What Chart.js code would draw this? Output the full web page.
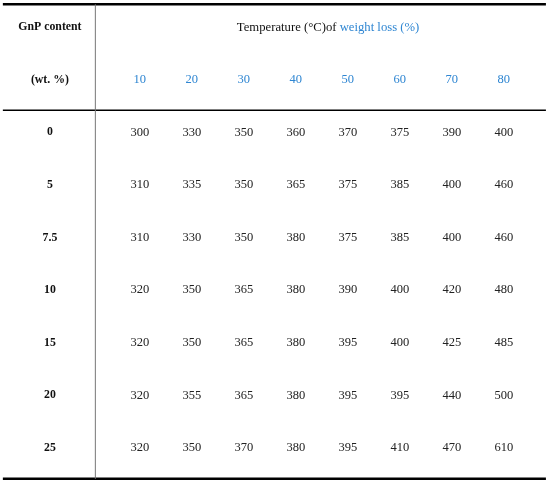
<!DOCTYPE html>
<html>
<head>
<meta charset="utf-8">
<script src="https://cdn.jsdelivr.net/npm/chart.js@4"></script>
<style>
  body { margin: 0; background: #fff; }
  canvas { display: block; }
</style>
</head>
<body>
<canvas id="tabela" width="550" height="484"></canvas>
<script>
// dados da tabela
var gnpContent = ['0', '5', '7.5', '10', '15', '20', '25'];
var weightLoss = ['10', '20', '30', '40', '50', '60', '70', '80'];
var temp0 = [300, 330, 350, 360, 370, 375, 390, 400];
var temp5 = [310, 335, 350, 365, 375, 385, 400, 460];
var temp7_5 = [310, 330, 350, 380, 375, 385, 400, 460];
var temp10 = [320, 350, 365, 380, 390, 400, 420, 480];
var temp15 = [320, 350, 365, 380, 395, 400, 425, 485];
var temp20 = [320, 355, 365, 380, 395, 395, 440, 500];
var temp25 = [320, 350, 370, 380, 395, 410, 470, 610];
var allRows = [temp0, temp5, temp7_5, temp10, temp15, temp20, temp25];

var blue = '#2f86d2';
var serif = '"Liberation Serif", "DejaVu Serif", serif';
var labelCol = -0.73;   // posição da coluna GnP no eixo x

// pontos (células) em coordenadas de escala: x = coluna, y = linha
var headerCells = weightLoss.map(function (w, i) { return { x: i + 1, y: 1, t: w }; });
var labelCells = [{ x: labelCol, y: 0, t: 'GnP content' }, { x: labelCol, y: 1, t: '(wt. %)' }]
  .concat(gnpContent.map(function (g, r) { return { x: labelCol, y: r + 2, t: g }; }));
var valueCells = [];
allRows.forEach(function (row, r) {
  row.forEach(function (v, c) { valueCells.push({ x: c + 1, y: r + 2, t: String(v) }); });
});

var cellText = {
  id: 'cellText',
  afterDatasetsDraw: function (chart) {
    var ctx = chart.ctx;
    ctx.save();
    ctx.textAlign = 'center';
    ctx.textBaseline = 'middle';
    chart.data.datasets.forEach(function (ds, i) {
      var meta = chart.getDatasetMeta(i);
      ctx.font = ds.textFont;
      ctx.fillStyle = ds.textColor;
      meta.data.forEach(function (pt, j) {
        ctx.fillText(ds.data[j].t, pt.x, pt.y);
      });
    });

    // título em duas cores
    var xs = chart.scales.x, ys = chart.scales.y;
    var p1 = 'Temperature (°C)of ', p2 = 'weight loss (%)';
    ctx.font = '12.7px ' + serif;
    var w1 = ctx.measureText(p1).width, w2 = ctx.measureText(p2).width;
    var cx = xs.getPixelForValue(4.62), cy = ys.getPixelForValue(0);
    ctx.textAlign = 'left';
    ctx.fillStyle = '#111';
    ctx.fillText(p1, cx - (w1 + w2) / 2, cy);
    ctx.fillStyle = blue;
    ctx.fillText(p2, cx - (w1 + w2) / 2 + w1, cy);

    // linhas da tabela
    var left = xs.getPixelForValue(-1.635), right = xs.getPixelForValue(8.81);
    var top = ys.getPixelForValue(-0.437), mid = ys.getPixelForValue(1.578), bottom = ys.getPixelForValue(8.59);
    var vx = xs.getPixelForValue(0.144);
    ctx.strokeStyle = '#000';
    ctx.lineWidth = 2.5;
    ctx.beginPath(); ctx.moveTo(left, top); ctx.lineTo(right, top); ctx.stroke();
    ctx.beginPath(); ctx.moveTo(left, bottom); ctx.lineTo(right, bottom); ctx.stroke();
    ctx.lineWidth = 1.6;
    ctx.beginPath(); ctx.moveTo(left, mid); ctx.lineTo(right, mid); ctx.stroke();
    ctx.strokeStyle = '#777';
    ctx.lineWidth = 1;
    ctx.beginPath(); ctx.moveTo(vx, top); ctx.lineTo(vx, bottom); ctx.stroke();
    ctx.restore();
  }
};

var ctx = document.getElementById('tabela').getContext('2d');
var chart = new Chart(ctx, {
  type: 'scatter',
  data: {
    datasets: [
      { data: labelCells, textFont: 'bold 11.8px ' + serif, textColor: '#111', pointRadius: 0 },
      { data: headerCells, textFont: '12.5px ' + serif, textColor: blue, pointRadius: 0 },
      { data: valueCells, textFont: '12.5px ' + serif, textColor: '#222', pointRadius: 0 }
    ]
  },
  options: {
    responsive: false,
    animation: false,
    events: [],
    layout: { padding: { left: 0, right: 2, top: 1, bottom: 2 } },
    plugins: { legend: { display: false }, tooltip: { enabled: false } },
    scales: {
      x: { type: 'linear', min: -1.69, max: 8.85, display: false },
      y: { type: 'linear', min: -0.5, max: 8.65, reverse: true, display: false }
    }
  },
  plugins: [cellText]
});
</script>
</body>
</html>
